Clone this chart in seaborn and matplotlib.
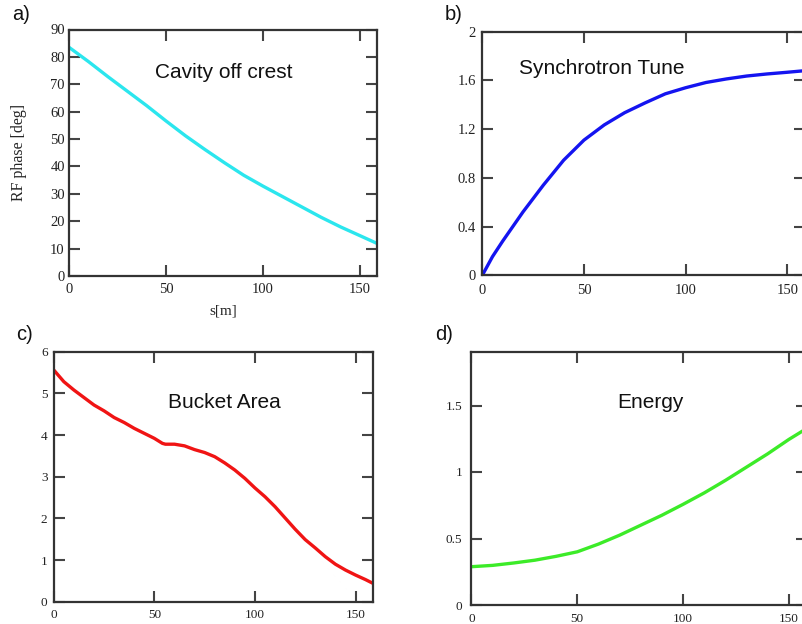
import matplotlib
matplotlib.use("Agg")
import matplotlib.pyplot as plt
import seaborn as sns
import numpy as np
import pandas as pd
from matplotlib.ticker import FuncFormatter

sns.set_style("white")
plt.rcParams['font.family'] = ['Liberation Serif', 'DejaVu Serif']

# ---- data ----
s_a = [0, 10, 20, 30, 40, 50, 60, 70, 80, 90, 100, 110, 120, 130, 140, 150, 158.7]
rf_phase = [83.5, 78.3, 72.8, 67.5, 62.2, 56.6, 51.2, 46.2, 41.4, 36.8, 32.8,
            29.0, 25.2, 21.4, 17.9, 14.7, 11.9]

s_b = [0, 5, 10, 20, 30, 40, 50, 60, 70, 80, 90, 100, 110, 120, 130, 140, 150, 158.7]
sync_tune = [0, 0.153, 0.28, 0.52, 0.74, 0.945, 1.11, 1.235, 1.335, 1.415, 1.49, 1.54,
             1.583, 1.612, 1.636, 1.653, 1.667, 1.68]

s_c = [0, 5, 10, 15, 20, 25, 30, 35, 40, 45, 50, 54, 55.5, 60, 65, 70, 75, 80, 85,
       90, 95, 100, 105, 110, 115, 120, 125, 130, 135, 140, 145, 150, 155, 158.7]
bucket_area = [5.56, 5.28, 5.08, 4.9, 4.72, 4.58, 4.42, 4.30, 4.16, 4.04, 3.92, 3.80,
               3.78, 3.78, 3.74, 3.65, 3.58, 3.48, 3.33, 3.16, 2.96, 2.73, 2.52, 2.28,
               2.01, 1.74, 1.49, 1.29, 1.08, 0.90, 0.76, 0.64, 0.53, 0.44]

s_d = [0, 10, 20, 30, 40, 50, 60, 70, 80, 90, 100, 110, 120, 130, 140, 150, 158.7]
energy = [0.288, 0.298, 0.316, 0.337, 0.366, 0.40, 0.458, 0.525, 0.60, 0.675, 0.757,
          0.843, 0.937, 1.037, 1.137, 1.245, 1.33]

titles = ["Cavity off crest", "Synchrotron Tune", "Bucket Area", "Energy"]
letters = ["a)", "b)", "c)", "d)"]
x_ticks = [0, 50, 100, 150]
y_ticks_a = [0, 10, 20, 30, 40, 50, 60, 70, 80, 90]
y_ticks_b = [0, 0.4, 0.8, 1.2, 1.6, 2]
y_ticks_c = [0, 1, 2, 3, 4, 5, 6]
y_ticks_d = [0, 0.5, 1, 1.5]

W, H = 803, 624
fig = plt.figure(figsize=(W / 100, H / 100), dpi=100)


def add_axes(left, right, top, bottom):
    return fig.add_axes([left / W, 1 - bottom / H, (right - left) / W, (bottom - top) / H])


ax_a = add_axes(69, 377, 29.5, 276)
ax_b = add_axes(482.3, 805, 31.7, 275.3)
ax_c = add_axes(53.8, 373, 351.7, 601.7)
ax_d = add_axes(471.5, 807.3, 352.3, 605)

specs = [
    (ax_a, s_a, rf_phase, '#2BE6EE', (0, 90), y_ticks_a, 10.5, (3, 5)),
    (ax_b, s_b, sync_tune, '#1414F0', (0, 2), y_ticks_b, 10.5, (4.5, 6.5)),
    (ax_c, s_c, bucket_area, '#F01414', (0, 6), y_ticks_c, 9.5, (4.5, 5.5)),
    (ax_d, s_d, energy, '#3CEB28', (0, 1.9), y_ticks_d, 9.5, (6.5, 5.5)),
]

fmt = FuncFormatter(lambda v, p: f"{v:g}")

for ax, xs, ys, col, ylim, yt, fs, pads in specs:
    df = pd.DataFrame({"s": xs, "v": ys})
    sns.lineplot(data=df, x="s", y="v", ax=ax, color=col, linewidth=2.4)
    ax.set_xlim(0, 158.7)
    ax.set_ylim(*ylim)
    ax.set_xticks(x_ticks)
    ax.set_yticks(yt)
    ax.yaxis.set_major_formatter(fmt)
    ax.xaxis.set_major_formatter(fmt)
    ax.set_xlabel("")
    ax.set_ylabel("")
    ax.tick_params(axis='both', direction='in', length=8, width=1.5, color='#444444',
                   top=True, right=True, left=True, bottom=True,
                   labelsize=fs, labelcolor='#222222')
    ax.tick_params(axis='y', pad=pads[0])
    ax.tick_params(axis='x', pad=pads[1])
    for sp in ax.spines.values():
        sp.set_linewidth(1.6)
        sp.set_color('#333333')
        sp.set_visible(True)

ax_a.set_ylabel("RF phase [deg]", fontsize=11.5)
ax_a.yaxis.set_label_coords(-0.137, 0.5)
ax_a.set_xlabel("s[m]", fontsize=11, labelpad=6)

# titles inside panels
title_pos = [(ax_a, 224, 72), (ax_b, 602, 68), (ax_c, 224, 403), (ax_d, 650, 402)]
for (ax, px, py), t in zip(title_pos, titles):
    fig.text(px / W, 1 - py / H, t, fontsize=15, family=['Liberation Sans', 'DejaVu Sans'],
             ha='center', va='center', color='#111111')

letter_pos = [(21, 15), (454, 15), (25, 335), (444, 335)]
for (px, py), t in zip(letter_pos, letters):
    fig.text(px / W, 1 - py / H, t, fontsize=14.5, family=['Liberation Sans', 'DejaVu Sans'],
             ha='center', va='center', color='#111111')

fig.savefig("out.png", dpi=100)
